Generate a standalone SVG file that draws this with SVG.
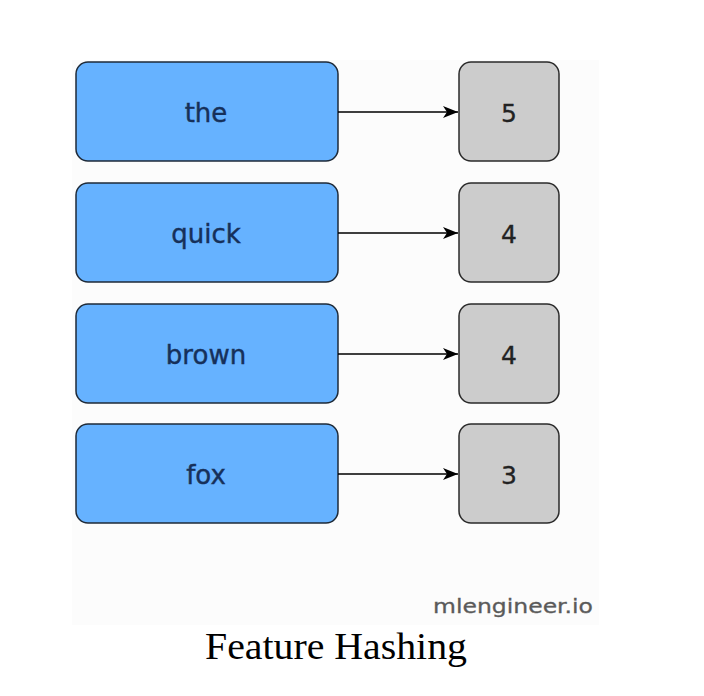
<svg xmlns="http://www.w3.org/2000/svg" width="704" height="696" viewBox="0 0 704 696">
<style>
.word rect{fill:#66b2ff;stroke:#1e2a38;stroke-width:1.5}
.num rect{fill:#cccccc;stroke:#2a2a2a;stroke-width:1.5}
.word text{font-family:"DejaVu Sans",Verdana,sans-serif;font-size:26px;fill:#16305a;stroke:#16305a;stroke-width:0.4;text-anchor:middle}
.num text{font-family:"DejaVu Sans",Verdana,sans-serif;font-size:25px;fill:#222;stroke:#222;stroke-width:0.3;text-anchor:middle}
.conn line{stroke:#000;stroke-width:1.5;marker-end:url(#ah)}
</style>
<defs>
<marker id="ah" viewBox="0 0 15 12" refX="15" refY="6" markerWidth="15" markerHeight="12" markerUnits="userSpaceOnUse" orient="auto">
<path d="M0,0 L15,6 L0,12 L4,6 Z" fill="#000"/>
</marker>
</defs>
<rect width="704" height="696" fill="#fff"/>
<rect x="72" y="60" width="527" height="565" fill="#fcfcfc"/>
<g id="n-the" class="word"><rect x="76" y="62" width="262" height="99" rx="12"/><text x="206" y="122">the</text></g>
<g id="n-quick" class="word"><rect x="76" y="183" width="262" height="99" rx="12"/><text x="206" y="243">quick</text></g>
<g id="n-brown" class="word"><rect x="76" y="304" width="262" height="99" rx="12"/><text x="206" y="364">brown</text></g>
<g id="n-fox" class="word"><rect x="76" y="424" width="262" height="99" rx="12"/><text x="206" y="484">fox</text></g>
<g id="v-5" class="num"><rect x="459" y="62" width="100" height="99" rx="12"/><text x="509" y="122">5</text></g>
<g id="v-4a" class="num"><rect x="459" y="183" width="100" height="99" rx="12"/><text x="509" y="243">4</text></g>
<g id="v-4b" class="num"><rect x="459" y="304" width="100" height="99" rx="12"/><text x="509" y="364">4</text></g>
<g id="v-3" class="num"><rect x="459" y="424" width="100" height="99" rx="12"/><text x="509" y="484">3</text></g>
<g id="connectors" class="conn">
<line x1="338" y1="112" x2="458" y2="112"/>
<line x1="338" y1="233" x2="458" y2="233"/>
<line x1="338" y1="354" x2="458" y2="354"/>
<line x1="338" y1="474" x2="458" y2="474"/>
</g>
<text x="593" y="613" font-family="'DejaVu Sans',Verdana,sans-serif" font-size="20" fill="#5a5a5a" stroke="#5a5a5a" stroke-width="0.3" text-anchor="end" textLength="160" lengthAdjust="spacingAndGlyphs">mlengineer.io</text>
<text x="336" y="659" font-family="'Liberation Serif','Times New Roman',serif" font-size="38" fill="#000" text-anchor="middle" textLength="262" lengthAdjust="spacingAndGlyphs">Feature Hashing</text>
</svg>
